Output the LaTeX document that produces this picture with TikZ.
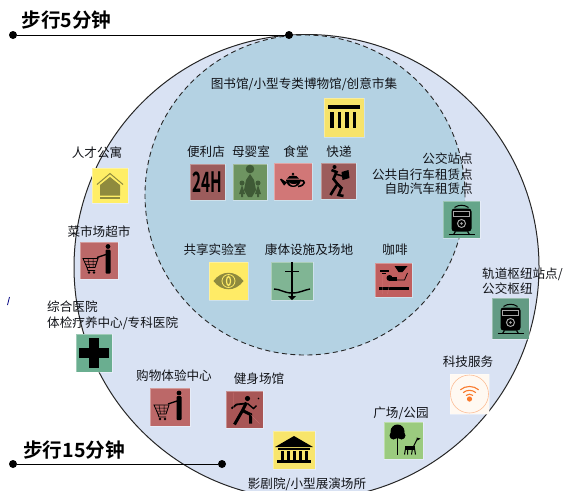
\documentclass[tikz,border=0pt]{standalone}
\usepackage{fontspec}
\setmainfont{Noto Sans CJK SC}[BoldFont={Noto Sans CJK SC Bold}]
\usepackage{tikz}
\usetikzlibrary{positioning}
\definecolor{zoneout}{HTML}{D9E2F3}
\definecolor{zonein}{HTML}{B4D2E3}
\definecolor{inktext}{HTML}{111318}
\definecolor{olivemark}{HTML}{8F8A3E}
\definecolor{wifimark}{HTML}{F97B2D}
\definecolor{babymark}{HTML}{3F5A36}
\definecolor{boxlib}{HTML}{F7E36A}
\definecolor{boxbrick}{HTML}{9C5C5C}
\definecolor{boxbaby}{HTML}{6E9461}
\definecolor{boxfood}{HTML}{D17777}
\definecolor{boxeye}{HTML}{FFEB66}
\definecolor{boxlift}{HTML}{80B594}
\definecolor{boxcafe}{HTML}{C05F5F}
\definecolor{boxflat}{HTML}{FFEE66}
\definecolor{boxcart}{HTML}{BC6868}
\definecolor{boxclinic}{HTML}{6AAE90}
\definecolor{boxgym}{HTML}{A85656}
\definecolor{boxhall}{HTML}{F8E56B}
\definecolor{boxpark}{HTML}{9BCB7F}
\definecolor{boxwifi}{HTML}{FFF9F2}
\definecolor{boxbus}{HTML}{65A58A}
\definecolor{boxrail}{HTML}{639B84}
\tikzset{
  lab/.style={font=\fontsize{12.6}{14}\selectfont,text=inktext,inner sep=0pt},
  headlab/.style={font=\fontsize{19.6}{21}\selectfont\bfseries,text=black,inner sep=0pt},
  dotn/.style={circle,fill=black,inner sep=0pt,minimum size=8pt},
  iconbox/.style n args={3}{fill=#1,draw=white,draw opacity=.35,line width=.6pt,inner sep=0pt,minimum width=#2pt,minimum height=#3pt},
  housemark/.pic={
    \draw[olivemark,line width=1pt] (-13,-1) -- (0,-12) -- (13,-1);
    \fill[olivemark] (0,-8.5) -- (-10,-.5) -- (-10,10) -- (10,10) -- (10,-.5) -- cycle;
    \fill[olivemark] (-10,11.5) rectangle (10,13);
  },
  mothermark/.pic={
    \fill[babymark] (0,-13) circle (4.3);
    \fill[babymark] (0,-8) -- (4,-2) -- (6,8) -- (2,15) -- (-2,15) -- (-6,8) -- (-4,-2) -- cycle;
    \foreach \s in {-1,1}{
      \fill[babymark] (\s*8,1) circle (2.5);
      \fill[babymark] (\s*8,3) -- (\s*11,12) -- (\s*9,12) -- (\s*9,15) -- (\s*7,15) -- (\s*7,12) -- (\s*5,12) -- cycle;
    }
  },
  teapotmark/.pic={
    \fill (0,-7.5) circle (1.3);
    \fill (-6,-3) .. controls (-4,-7) and (4,-7) .. (6,-3) -- cycle;
    \fill (-7,-2) .. controls (-7,8) and (7,8) .. (8,-2) -- cycle;
    \fill (-6,1) -- (-12,-3) -- (-13,-2) -- (-9,4) -- cycle;
    \draw[line width=1.6pt] (7,-1) .. controls (13,-2) and (13,4) .. (5,5);
    \fill[boxfood] (-4,1) .. controls (-2,5) and (2,5) .. (4,2) .. controls (2,3) and (-2,3) .. (-4,1);
  },
  couriermark/.pic={
    \fill (-4,-14) circle (2);
    \draw[line width=2.6pt] (-7,-11) -- (-2,-9) -- (-5,-2) -- (-1,3) -- (-5,9) -- (-8,14);
    \draw[line width=2.6pt] (-1,3) -- (3,7) -- (0,14) -- (5,15);
    \draw[line width=1.6pt] (-3,-7) -- (4,-5);
    \fill (3,-9) -- (10,-11) -- (11,-3) -- (4,-1) -- cycle;
  },
  columnmark/.pic={
    \fill (-16,-13) rectangle (16,-9);
    \foreach \cx in {-12,-4.5,3,10.5}{\fill (\cx-1.6,-6) rectangle (\cx+1.6,10);}
  },
  trainmark/.pic={
    \draw[line width=1pt] (-7,-12) .. controls (-3,-15) and (3,-15) .. (7,-12);
    \fill[rounded corners=3pt] (-10,-11) rectangle (10,12);
    \draw[gray!70,line width=.6pt] (-8,-8) rectangle (8,-3);
    \draw[gray!70,line width=1pt] (0,4) circle (4);
    \fill[gray!70] (0,4) circle (1.3);
    \draw[line width=1.2pt] (-13,15) -- (13,15);
    \draw[line width=1pt] (-6,12) -- (-8,15) (6,12) -- (8,15);
  },
  crossmark/.pic={
    \fill (-5,-15) rectangle (5,15);
    \fill (-15,-5) rectangle (15,5);
  },
  eyemark/.pic={
    \fill[olivemark] (-15,0) .. controls (-7,-11) and (7,-11) .. (15,0) .. controls (7,11) and (-7,11) .. (-15,0) -- cycle;
    \draw[boxeye,line width=.8pt] (0,0) circle (6.5);
    \draw[boxeye,line width=1.2pt] (0,0) ellipse (2 and 4.5);
  },
  liftmark/.pic={
    \draw[line width=2.6pt] (0,-19) -- (0,15);
    \draw[line width=.9pt] (-7,-10) -- (7,-10);
    \draw[line width=1.4pt] (-18,8) .. controls (-12,8) and (-8,12) .. (0,12) .. controls (8,12) and (12,9) .. (18,8);
    \fill (-4,15) -- (4,15) -- (0,19) -- cycle;
  },
  coffeemark/.pic={
    \fill (-14,-10) rectangle (-5,-8);
    \fill (-12,-7) rectangle (-8,-6);
    \fill (1,-14) -- (14,-14) -- (9,-8) -- (5,-8) -- cycle;
    \fill (-4,-2) circle (3);
    \fill (-4,-3) rectangle (3,1);
    \draw[line width=.8pt] (3,0) -- (11,0) -- (14,-7);
    \fill (-15,7) rectangle (15,9.5);
    \draw[line width=.3pt,boxfood] (-11,-6) -- (-11,14) (-4,5) -- (-6,14);
  },
  cartmark/.pic={
    \fill (9,-14) circle (2.4);
    \fill[rounded corners=1pt] (6.5,-11) rectangle (11.5,13);
    \draw[line width=1.4pt] (7,-6) -- (-2,-3);
    \draw[line width=.8pt] (-16,-2) -- (-1,-2) -- (-4,7) -- (-12,7) -- cycle;
    \draw[line width=.5pt] (-14.5,1) -- (-2,1) (-13.5,4) -- (-3,4) (-11,-2) -- (-9.5,7) (-6,-2) -- (-6,7);
    \draw[line width=.8pt] (-12,7) -- (-11,10) -- (-4,10);
    \fill (-10,12) circle (1.3) (-5,12) circle (1.3);
  },
  gymmark/.pic={
    \fill (3,-11) circle (2.6);
    \draw[line width=3pt] (2,-7) -- (-2,1) -- (-10,15);
    \draw[line width=3pt] (-2,1) -- (6,5) -- (6,14);
    \draw[line width=1.8pt] (1,-6) -- (-8,-5) -- (-13,-1);
    \draw[line width=1.4pt] (3,-6) -- (9,-1) -- (12,-4);
    \fill (14,-11) circle (.9);
    \draw[boxfood,line width=.3pt] (-11,-17) -- (-11,0) (6,5) -- (15,14);
  },
  templemark/.pic={
    \fill (0,-14) -- (19,-3) -- (-19,-3) -- cycle;
    \fill (-16,-2) rectangle (16,0);
    \foreach \cx in {-12,-6,0,6,12}{\fill (\cx-1.5,1) rectangle (\cx+1.5,10);}
    \fill (-17,10) rectangle (17,13);
  },
  parkmark/.pic={
    \fill (-6,-9) circle (7);
    \fill (-10,-5) circle (4) (-2,-5) circle (4);
    \draw[line width=1.8pt] (-6,-4) -- (-6,14);
    \fill (1,5) rectangle (11,9);
    \draw[line width=1pt] (2,8) -- (1,14) (4,8) -- (4,14) (9,8) -- (8,14) (11,8) -- (12,14) (10,6) -- (14,-2);
    \fill (13,-3) -- (17,-2) -- (14,0) -- cycle;
  },
  wifimarkpic/.pic={
    \draw[wifimark!50!white,line width=.6pt] (0,0) circle (19);
    \fill[wifimark] (0,5) circle (2.6);
    \foreach \rr in {5,9,13}{
      \draw[wifimark,line width=1.1pt] (-\rr*.707,5-\rr*.707) .. controls (-\rr*.3,5-\rr*1.05) and (\rr*.3,5-\rr*1.05) .. (\rr*.707,5-\rr*.707);
    }
  },
}
\begin{document}
\begin{tikzpicture}[x=1pt,y=-1pt]
\useasboundingbox (0,0) rectangle (564,490);
\clip (0,0) rectangle (564,490);
% zones
\node[circle,fill=zoneout,draw=black!85,line width=1pt,inner sep=0pt,minimum size=465pt] (zoneB) at (306.5,267) {};
\node[circle,fill=zonein,draw=black!85,dash pattern=on 5pt off 3.5pt,line width=.9pt,inner sep=0pt,minimum size=320pt] (zoneA) at (305,195) {};
% walking lines
\node[dotn] (startA) at (13,35) {};
\node[dotn] (endA) at (289,35) {};
\draw[line width=1pt] (startA) -- (endA);
\node[headlab] (walkA) at (66.5,20) {步行5分钟};
\node[dotn] (startB) at (13,464) {};
\node[dotn] (endB) at (222,464) {};
\draw[line width=1pt] (startB) -- (endB);
\node[headlab] (walkB) at (74,450) {步行15分钟};
% inner icons
\node[iconbox={boxlib}{40}{39}] (lib) at (344,117.5) {};
\node[lab] (libT) at (304,84) {图书馆/小型专类博物馆/创意市集};
\node[iconbox={boxbrick}{35}{36}] (shop) at (207.5,182) {};
\node[font=\fontsize{28}{28}\selectfont\bfseries,xscale=.55,inner sep=0pt] (shopH) at (shop) {24H};
\node[iconbox={boxbaby}{34}{36}] (baby) at (250,182) {};
\node[iconbox={boxfood}{38}{37}] (food) at (293,181.5) {};
\node[iconbox={boxbrick}{35}{36}] (post) at (338.5,181) {};
\node[lab] (shopT) at (206,152) {便利店};
\node[lab] (babyT) at (251,152) {母婴室};
\node[lab] (foodT) at (296,152) {食堂};
\node[lab] (postT) at (339,152) {快递};
\node[iconbox={boxeye}{39}{38}] (labroom) at (228.5,281) {};
\node[iconbox={boxlift}{42}{38}] (gymA) at (292,281) {};
\node[iconbox={boxcafe}{37}{34}] (cafe) at (393.5,280) {};
\node[lab] (labroomT) at (215,250) {共享实验室};
\node[lab] (gymAT) at (309,250) {康体设施及场地};
\node[lab] (cafeT) at (395,250) {咖啡};
% outer icons
\node[iconbox={boxflat}{36}{35}] (flat) at (110,185.5) {};
\node[lab] (flatT) at (97,153) {人才公寓};
\node[iconbox={boxcart}{38}{37}] (cartA) at (99,260.5) {};
\node[lab] (cartAT) at (99,232) {菜市场超市};
\node[iconbox={boxclinic}{36}{38}] (clinic) at (94,353) {};
\node[lab,anchor=west] (clinicT) at (47,307) {综合医院};
\node[lab,anchor=west] (clinicU) at (47,323) {体检疗养中心/专科医院};
\node[iconbox={boxcart}{40}{38}] (cartB) at (170,407) {};
\node[lab] (cartBT) at (174,376) {购物体验中心};
\node[iconbox={boxgym}{37}{37}] (gymB) at (244.5,409.5) {};
\node[lab] (gymBT) at (259,379) {健身场馆};
\node[iconbox={boxhall}{42}{38}] (hall) at (294,450) {};
\node[lab] (hallT) at (307,484) {影剧院/小型展演场所};
\node[iconbox={boxpark}{39}{37}] (park) at (403.5,440.5) {};
\node[lab] (parkT) at (401,413) {广场/公园};
\node[iconbox={boxwifi}{39}{40}] (wifi) at (469.5,394) {};
\node[lab] (wifiT) at (468,362) {科技服务};
\node[iconbox={boxbus}{37}{37}] (bus) at (461.5,219.5) {};
\node[lab,anchor=east] (busT) at (473,159) {公交站点};
\node[lab,anchor=east] (busU) at (473,174.5) {公共自行车租赁点};
\node[lab,anchor=east] (busV) at (473,189) {自助汽车租赁点};
\node[iconbox={boxrail}{37}{41}] (rail) at (510.5,318.5) {};
\node[lab,anchor=west] (railT) at (482,274) {轨道枢纽站点/};
\node[lab,anchor=west] (railU) at (482,289) {公交枢纽};
% stray mark
\coordinate (strayA) at (7.5,305);
\coordinate (strayB) at (9.5,297);
\draw[blue!50!black,line width=.8pt] (strayA) -- (strayB);
% glyphs
\pic at (flat) {housemark};
\pic at (baby) {mothermark};
\pic at (food) {teapotmark};
\pic at (post) {couriermark};
\pic at (lib) {columnmark};
\pic at (bus) {trainmark};
\pic at (rail) {trainmark};
\pic at (clinic) {crossmark};
\pic at (labroom) {eyemark};
\pic at (gymA) {liftmark};
\pic at (cafe) {coffeemark};
\pic at (cartA) {cartmark};
\pic at (cartB) {cartmark};
\pic at (gymB) {gymmark};
\pic at (hall) {templemark};
\pic at (park) {parkmark};
\pic at (wifi) {wifimarkpic};
\end{tikzpicture}
\end{document}
